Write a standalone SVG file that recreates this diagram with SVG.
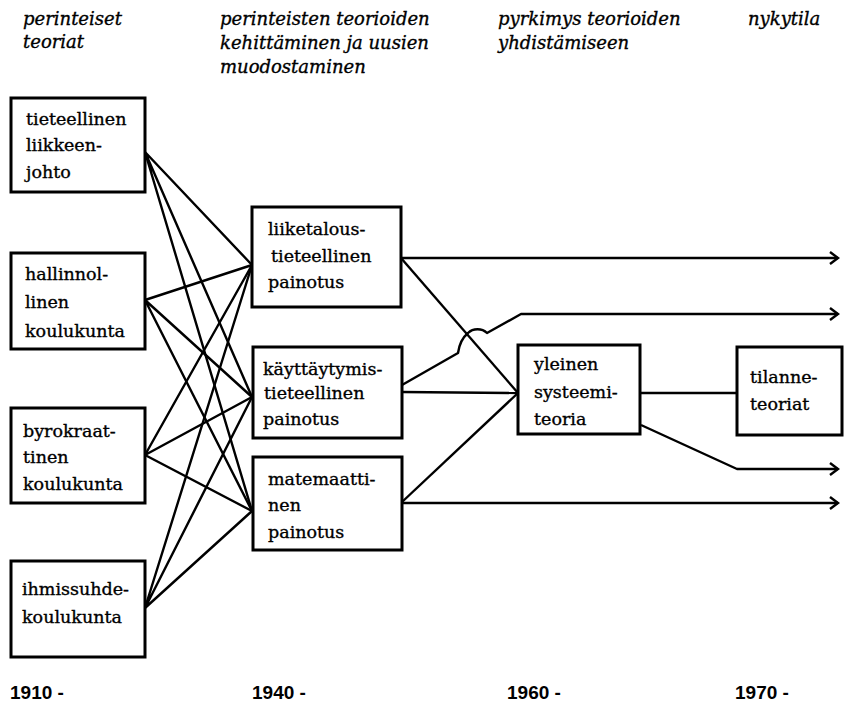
<svg xmlns="http://www.w3.org/2000/svg" width="846" height="704" viewBox="0 0 846 704">
<style>
.box{fill:#fff;stroke:#000;stroke-width:3}
.t{font-family:"DejaVu Serif","Liberation Serif",serif;font-size:17.5px;fill:#000;stroke:#000;stroke-width:0.35}
.h{font-family:"DejaVu Serif","Liberation Serif",serif;font-size:18px;font-style:italic;fill:#000;stroke:#000;stroke-width:0.35}
.y{font-family:"Liberation Sans",Arial,sans-serif;font-size:19px;font-weight:bold;fill:#000}
.c{fill:none;stroke:#000;stroke-width:2.4;stroke-linejoin:round}
</style>
<defs>
<marker id="arr" markerUnits="userSpaceOnUse" markerWidth="12" markerHeight="14" refX="9" refY="7" orient="auto">
<path d="M1,1 L9,7 L1,13" fill="none" stroke="#000" stroke-width="2.4"/>
</marker>
</defs>
<rect width="846" height="704" fill="#fff"/>
<g id="headers">
<text class="h" x="23" y="25">perinteiset</text>
<text class="h" x="23" y="48">teoriat</text>
<text class="h" x="220" y="25">perinteisten teorioiden</text>
<text class="h" x="220" y="49">kehittäminen ja uusien</text>
<text class="h" x="220" y="73">muodostaminen</text>
<text class="h" x="498" y="25">pyrkimys teorioiden</text>
<text class="h" x="498" y="49">yhdistämiseen</text>
<text class="h" x="748" y="25">nykytila</text>
</g>
<g id="connectors">
<path class="c" d="M145,152 L252,265 M145,152 L252,397 M145,152 L252,511"/>
<path class="c" d="M145,300 L252,265 M145,300 L252,397 M145,300 L252,511"/>
<path class="c" d="M145,455 L252,265 M145,455 L252,397 M145,455 L252,511"/>
<path class="c" d="M145,608 L252,265 M145,608 L252,397 M145,608 L252,511"/>
<path class="c" d="M401,258 L838,258" marker-end="url(#arr)"/>
<path class="c" d="M401,258 L518,393"/>
<path class="c" d="M402,385 L458,353 C459,346 462,338 468,333 C473,328 482,328 487,333 L521,314 L838,314" marker-end="url(#arr)"/>
<path class="c" d="M402,392 L518,393"/>
<path class="c" d="M402,502 L518,393"/>
<path class="c" d="M402,503 L838,503" marker-end="url(#arr)"/>
<path class="c" d="M640,393 L737,393"/>
<path class="c" d="M641,425 L737,469 L838,469" marker-end="url(#arr)"/>
</g>
<g id="n1"><rect class="box" x="11" y="98" width="134" height="94"/>
<text class="t" x="26" y="125">tieteellinen</text><text class="t" x="26" y="151">liikkeen-</text><text class="t" x="26" y="178">johto</text></g>
<g id="n2"><rect class="box" x="11" y="253" width="134" height="96"/>
<text class="t" x="25" y="280">hallinnol-</text><text class="t" x="25" y="308">linen</text><text class="t" x="25" y="337">koulukunta</text></g>
<g id="n3"><rect class="box" x="11" y="408" width="134" height="95"/>
<text class="t" x="23" y="437">byrokraat-</text><text class="t" x="23" y="463">tinen</text><text class="t" x="23" y="490">koulukunta</text></g>
<g id="n4"><rect class="box" x="11" y="561" width="134" height="96"/>
<text class="t" x="22" y="595">ihmissuhde-</text><text class="t" x="22" y="623">koulukunta</text></g>
<g id="nA"><rect class="box" x="252" y="207" width="149" height="100"/>
<text class="t" x="268" y="235">liiketalous-</text><text class="t" x="271" y="262">tieteellinen</text><text class="t" x="268" y="288">painotus</text></g>
<g id="nB"><rect class="box" x="253" y="347" width="149" height="91"/>
<text class="t" x="263" y="375">käyttäytymis-</text><text class="t" x="264" y="399">tieteellinen</text><text class="t" x="263" y="425">painotus</text></g>
<g id="nC"><rect class="box" x="253" y="457" width="149" height="93"/>
<text class="t" x="268" y="485">matemaatti-</text><text class="t" x="268" y="511">nen</text><text class="t" x="268" y="538">painotus</text></g>
<g id="nY"><rect class="box" x="518" y="345" width="122" height="89"/>
<text class="t" x="534" y="370">yleinen</text><text class="t" x="534" y="398">systeemi-</text><text class="t" x="534" y="425">teoria</text></g>
<g id="nT"><rect class="box" x="737" y="347" width="105" height="88"/>
<text class="t" x="750" y="383">tilanne-</text><text class="t" x="750" y="410">teoriat</text></g>
<g id="years">
<text class="y" x="10" y="699">1910 -</text>
<text class="y" x="252" y="699">1940 -</text>
<text class="y" x="507" y="699">1960 -</text>
<text class="y" x="735" y="699">1970 -</text>
</g>
</svg>
